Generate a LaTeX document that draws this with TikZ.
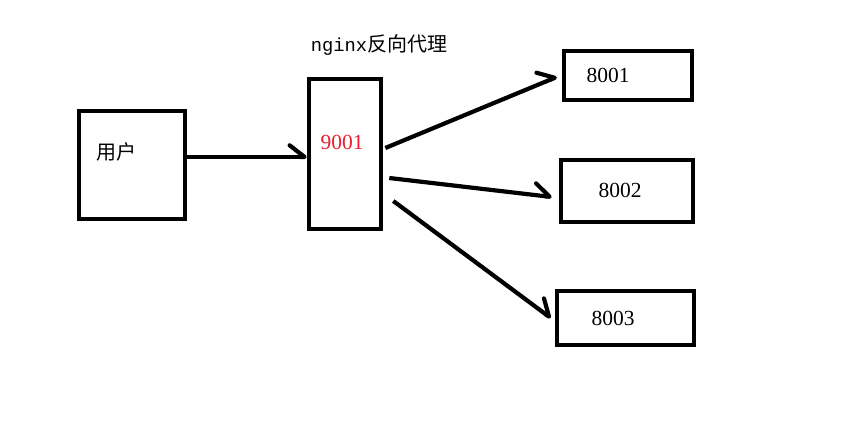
\documentclass[tikz,border=0pt]{standalone}
\usepackage{fontspec}
\setmainfont{Liberation Serif}
\newfontfamily\cjk{Noto Sans CJK SC}
\newfontfamily\ngxmono{Liberation Mono}
\usetikzlibrary{arrows.meta, positioning}
\definecolor{portred}{RGB}{235,30,45}

\begin{document}
\begin{tikzpicture}[
            x = 1pt, y = -1pt, % pixel-like grid, y going down
            > = {Straight Barb[harpoon, angle=76:19pt, round]}, % one-sided hand drawn head
            line width = 4.2pt, % line style
            font = \fontsize{21.5}{24}\selectfont
        ]

        \tikzstyle{box}=[
            draw = black,
            line width = 4.6pt,
            fill = white,
            inner sep = 0pt
        ]
        \tikzstyle{lbl}=[
            inner sep = 0pt
        ]

    \useasboundingbox (0,0) rectangle (859,433);

	\node[box, minimum width=106pt, minimum height=108pt] (user) at (132,165) {};
	\node[box, minimum width=72pt, minimum height=150pt] (proxy) at (345,154) {};
	\node[box, minimum width=128pt, minimum height=49pt] (s1) at (628,75.5) {};
	\node[box, minimum width=132pt, minimum height=62pt] (s2) at (627,191) {};
	\node[box, minimum width=137pt, minimum height=54pt] (s3) at (625.5,318) {};

	\node[lbl] (userlbl) at ([shift={(-16,-13)}]user.center) {\cjk\fontsize{20}{24}\selectfont 用户};
	\node[lbl, text=portred] (proxylbl) at ([shift={(-3,-12)}]proxy.center) {9001};
	\node[lbl] (title) at (379,45) {{\ngxmono\fontsize{18.8}{22}\selectfont nginx}\cjk\fontsize{20}{24}\selectfont 反向代理};
	\node[lbl] (s1lbl) at ([shift={(-20,0)}]s1.center) {8001};
	\node[lbl] (s2lbl) at ([shift={(-7,-1)}]s2.center) {8002};
	\node[lbl] (s3lbl) at ([shift={(-12.5,0.5)}]s3.center) {8003};

        \draw[->] ([shift={(0,-8)}]user.east) -- ([shift={(0,3)}]proxy.west);
        \draw[->] ([shift={(2,-6)}]proxy.east) -- ([shift={(-5,1.5)}]s1.west);
        \draw[->] ([shift={(6,24)}]proxy.east) -- ([shift={(-7,6)}]s2.west);
        \draw[->] ([shift={(10,47)}]proxy.east) -- ([shift={(-4,0)}]s3.west);

    \end{tikzpicture}
\end{document}
